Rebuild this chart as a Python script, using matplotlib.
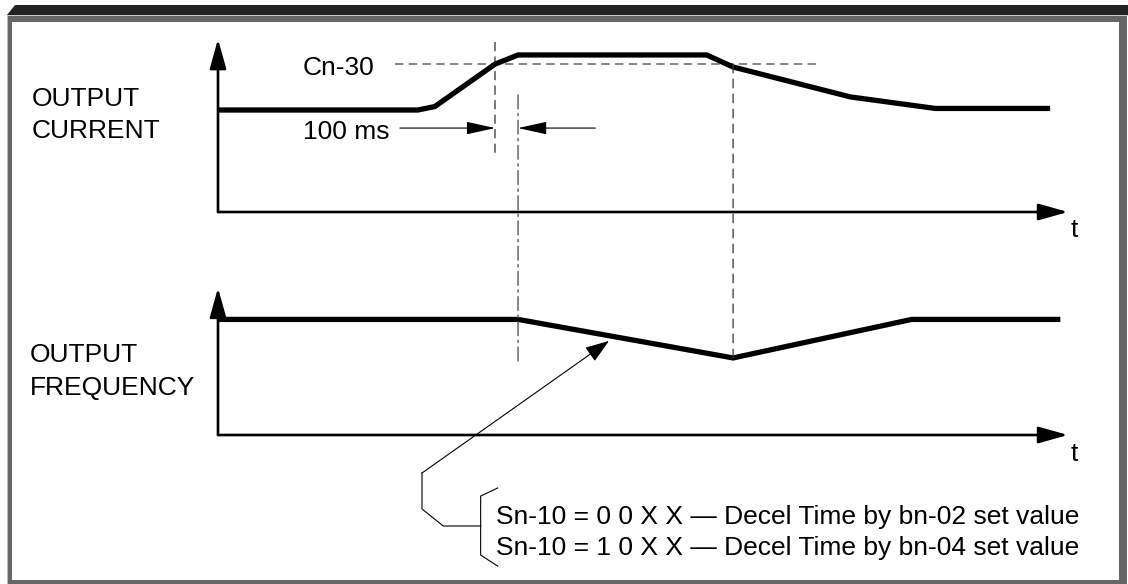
import matplotlib
matplotlib.use("Agg")
import matplotlib.pyplot as plt
from matplotlib.patches import Rectangle, Polygon, ConnectionPatch

plt.rcParams['font.family'] = ['Liberation Sans', 'DejaVu Sans']

# ---- data (time in arbitrary units 0..100, levels 0..100) ----
cur_t = [0, 23.5, 25.5, 32.6, 35.3, 57.5, 60.6, 74.4, 84.4, 97.9]
cur_v = [59.3, 59.3, 61.3, 86.0, 91.3, 91.3, 84.3, 66.9, 60.2, 60.2]
frq_t = [0, 35.3, 60.6, 81.6, 99.1]
frq_v = [67.2, 67.2, 44.8, 67.2, 67.2]
cn30_level = 86.0
cn30_span = [20.8, 70.8]
t_detect = 32.6      # current reaches Cn-30
t_start = 35.3       # decel start (100 ms later)
t_end = 60.6         # current back under Cn-30
ms_level = 48.8
row_labels = [["OUTPUT", "CURRENT"], ["OUTPUT", "FREQUENCY"]]
note_lines = ["Sn-10 = 0 0 X X \u2014 Decel Time by bn-02 set value",
              "Sn-10 = 1 0 X X \u2014 Decel Time by bn-04 set value"]

W, H = 1128, 584
fig = plt.figure(figsize=(W / 100, H / 100), dpi=100)

# ---- background frame ----
bg = fig.add_axes([0, 0, 1, 1], zorder=0)
bg.set_xlim(0, W)
bg.set_ylim(H, 0)
bg.axis('off')
bg.add_patch(Rectangle((7, 16), 1120, 568, color='#666666', lw=0))
bg.add_patch(Rectangle((7, 16), 1, 568, color='#bbbbbb', lw=0))
bg.add_patch(Rectangle((12, 22), 1107, 558, color='white', lw=0))
bg.add_patch(Polygon([(7, 15), (15, 5), (W, 5), (W, 15)], closed=True, color='#222222', lw=0))
bg.add_patch(Rectangle((7, 15), W - 7, 1.2, color='#cccccc', lw=0))

FS = 19
bg.text(32, 106, row_labels[0][0], fontsize=FS, va='baseline')
bg.text(32, 138, row_labels[0][1], fontsize=FS, va='baseline')
bg.text(30, 362, row_labels[1][0], fontsize=FS, va='baseline')
bg.text(30, 395, row_labels[1][1], fontsize=FS, va='baseline')
bg.text(303, 75, "Cn-30", fontsize=FS, va='baseline')
bg.text(303, 139, "100 ms", fontsize=FS, va='baseline')
bg.text(1071, 237, "t", fontsize=FS, va='baseline')
bg.text(1071, 461, "t", fontsize=FS, va='baseline')
bg.text(496, 524, note_lines[0], fontsize=FS, va='baseline')
bg.text(496, 555, note_lines[1], fontsize=FS, va='baseline')

# ---- data axes ----
L = 218 / W
AW = 850 / W
AH = 172 / H
ax1 = fig.add_axes([L, (H - 212) / H, AW, AH], zorder=2)
ax2 = fig.add_axes([L, (H - 435) / H, AW, AH], zorder=2)
for ax in (ax1, ax2):
    ax.set_xlim(0, 100)
    ax.set_ylim(0, 100)
    ax.axis('off')
    ax.patch.set_alpha(0)

axis_arrow = dict(arrowstyle='-|>,head_length=1,head_width=0.28', mutation_scale=18,
                  color='black', lw=1.9, shrinkA=0, shrinkB=0)
for ax, ytop in ((ax1, 100.5), (ax2, 85.5)):
    ax.annotate('', xy=(0, ytop), xytext=(0, 0), xycoords='data', arrowprops=axis_arrow,
                annotation_clip=False)
    ax.annotate('', xy=(100, 0), xytext=(0, 0), xycoords='data', arrowprops=axis_arrow,
                annotation_clip=False)

# waveforms
ax1.plot(cur_t, cur_v, color='black', lw=3.8, solid_joinstyle='miter',
         solid_capstyle='butt', clip_on=False, zorder=5)
ax2.plot(frq_t, frq_v, color='black', lw=3.8, solid_joinstyle='miter',
         solid_capstyle='butt', clip_on=False, zorder=5)

# Cn-30 level
ax1.plot(cn30_span, [cn30_level, cn30_level], color='#666666', lw=1.1,
         linestyle=(0, (5.5, 3.5)), clip_on=False, zorder=3)
# detect line
ax1.plot([t_detect, t_detect], [98.8, 31.4], color='#555555', lw=1.1,
         linestyle=(0, (6, 3.5)), clip_on=False, zorder=3)

# dash-dot line spanning both panels
con1 = ConnectionPatch(xyA=(t_start, 68.0), coordsA=ax1.transData,
                       xyB=(t_start, 40.7), coordsB=ax2.transData,
                       color='#666666', lw=1.1, linestyle=(0, (9, 3, 1.5, 3)), zorder=3)
fig.add_artist(con1)
con2 = ConnectionPatch(xyA=(t_end, cn30_level), coordsA=ax1.transData,
                       xyB=(t_end, 44.8), coordsB=ax2.transData,
                       color='#333333', lw=0.9, linestyle=(0, (7, 5)), zorder=3)
fig.add_artist(con2)

# 100 ms arrows
ms_arrow = dict(arrowstyle='-|>,head_length=1,head_width=0.22', mutation_scale=18,
                color='black', lw=0.8, shrinkA=0, shrinkB=0)
ax1.annotate('', xy=(t_detect, ms_level), xytext=(21.4, ms_level), arrowprops=ms_arrow,
             annotation_clip=False)
ax1.annotate('', xy=(t_start, ms_level), xytext=(44.4, ms_level), arrowprops=ms_arrow,
             annotation_clip=False)

# pointer to deceleration slope
ptr_arrow = dict(arrowstyle='-|>,head_length=1,head_width=0.35', mutation_scale=15,
                 color='black', lw=0.8, shrinkA=0, shrinkB=0)
ax2.annotate('', xy=(46.0, 54.7), xytext=(24.0, -22.1), arrowprops=ptr_arrow,
             annotation_clip=False)
ax2.plot([24.0, 24.0, 26.5, 30.9], [-22.1, -43.0, -52.9, -52.9], color='black', lw=0.8,
         clip_on=False)
ax2.plot([32.9, 30.9, 30.9, 32.9], [-30.8, -35.5, -69.8, -76.2], color='black', lw=0.8,
         clip_on=False)

fig.savefig('out.png', dpi=100)
